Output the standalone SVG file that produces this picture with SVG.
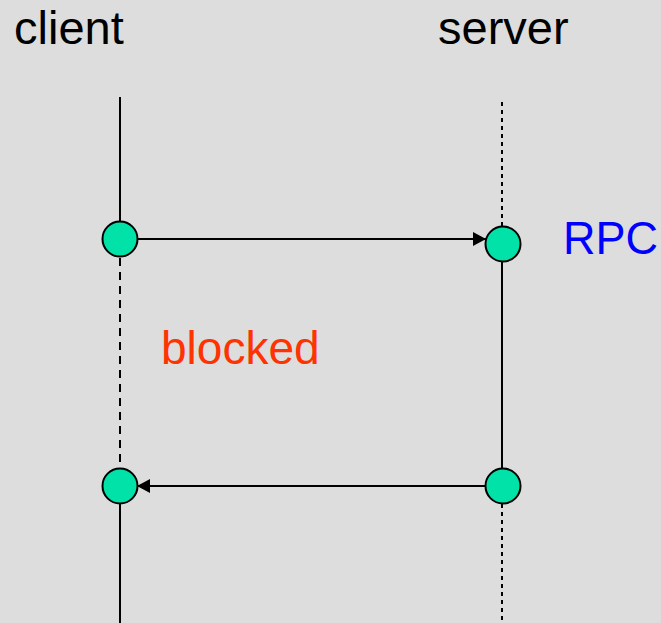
<svg xmlns="http://www.w3.org/2000/svg" width="661" height="623" viewBox="0 0 661 623">
  <defs>
    <marker id="arrow" viewBox="0 0 13 14" refX="13" refY="7" markerWidth="13" markerHeight="14" markerUnits="userSpaceOnUse" orient="auto">
      <path d="M0,0 L13,7 L0,14 Z" fill="#000"/>
    </marker>
    <style>
      .lbl { font-family: "Liberation Sans", Arial, sans-serif; }
      .life { stroke: #000; stroke-width: 2; fill: none; }
      .dash { stroke-dasharray: 8 6; }
      .dot { stroke-dasharray: 4 4; }
      .msg { stroke: #000; stroke-width: 2; fill: none; marker-end: url(#arrow); }
      .evt { fill: #00E2A8; stroke: #000; stroke-width: 2; }
    </style>
  </defs>
  <rect width="661" height="623" fill="#DDDDDD"/>

  <!-- lifelines -->
  <g id="lifelines">
    <line class="life" x1="120" y1="97" x2="120" y2="222"/>
    <line class="life dash" x1="120" y1="258" x2="120" y2="468"/>
    <line class="life" x1="120" y1="504" x2="120" y2="623"/>
    <line class="life dot" x1="502" y1="102" x2="502" y2="226"/>
    <line class="life" x1="502" y1="261" x2="502" y2="468"/>
    <line class="life dot" x1="502" y1="504" x2="502" y2="623"/>
  </g>

  <!-- messages -->
  <g id="connectors">
    <line class="msg" x1="137" y1="239" x2="486" y2="239"/>
    <line class="msg" x1="485" y1="486" x2="137" y2="486"/>
  </g>

  <g id="client-call"><circle class="evt" cx="120" cy="239" r="17.5"/></g>
  <g id="server-recv"><circle class="evt" cx="503" cy="244" r="17.5"/></g>
  <g id="server-reply"><circle class="evt" cx="503" cy="486" r="17.5"/></g>
  <g id="client-resume"><circle class="evt" cx="120" cy="486" r="17.5"/></g>

  <g id="labels">
    <text class="lbl" x="14" y="44" font-size="47" fill="#000">client</text>
    <text class="lbl" x="438" y="44" font-size="47" fill="#000">server</text>
    <text class="lbl" x="563" y="254" font-size="46" textLength="95" lengthAdjust="spacingAndGlyphs" fill="#0000FF">RPC</text>
    <text class="lbl" x="161" y="364" font-size="46" fill="#FF3300">blocked</text>
  </g>
</svg>
